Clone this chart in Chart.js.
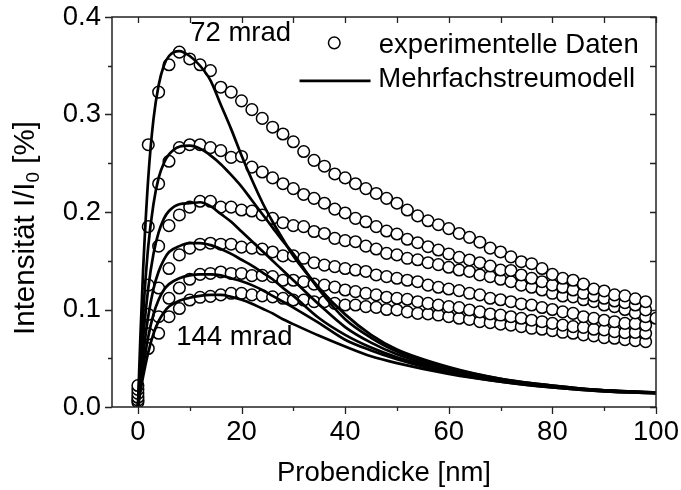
<!DOCTYPE html>
<html>
<head>
<meta charset="utf-8">
<script src="https://cdn.jsdelivr.net/npm/chart.js@4/dist/chart.umd.min.js"></script>
<style>
html,body{margin:0;padding:0;background:#fff;}
#wrap{width:681px;height:490px;}
</style>
</head>
<body>
<div id="wrap"><canvas id="c" width="681" height="490"></canvas></div>
<script>
// Probendicke (nm) of the measured points
const thickness = [0,2,4,6,8,10,12,14,16,18,20,22,24,26,28,30,32,34,36,38,40,42,44,46,48,50,52,54,56,58,60,62,64,66,68,70,72,74,76,78,80,82,84,86,88,90,92,94,96,98,100];

// experimentelle Daten, 72 mrad (top) ... 144 mrad (bottom)
const exp1 = [0.022,0.269,0.323,0.351,0.364,0.357,0.351,0.345,0.328,0.323,0.314,0.305,0.296,0.287,0.280,0.272,0.262,0.253,0.247,0.239,0.235,0.229,0.224,0.219,0.214,0.209,0.202,0.196,0.191,0.187,0.183,0.178,0.174,0.169,0.163,0.159,0.154,0.149,0.147,0.142,0.136,0.132,0.130,0.126,0.121,0.119,0.115,0.114,0.111,0.108,null];
const exp2 = [0.018,0.185,0.229,0.252,0.266,0.269,0.269,0.266,0.263,0.256,0.257,0.246,0.241,0.235,0.229,0.224,0.218,0.214,0.209,0.203,0.199,0.1935,0.190,0.185,0.1805,0.1774,0.172,0.1685,0.1644,0.161,0.157,0.1535,0.1508,0.148,0.1446,0.1405,0.140,0.1354,0.132,0.1285,0.125,0.1228,0.120,0.1166,0.1138,0.1115,0.1087,0.107,0.1046,0.0995,null];
const exp3 = [0.014,0.125,0.165,0.186,0.197,0.205,0.211,0.211,0.205,0.205,0.202,0.201,0.197,0.1935,0.189,0.186,0.185,0.180,0.178,0.173,0.1706,0.1695,0.165,0.162,0.1576,0.156,0.1525,0.151,0.148,0.146,0.1433,0.1405,0.139,0.1354,0.1337,0.131,0.1285,0.125,0.1228,0.120,0.1166,0.1138,0.113,0.110,0.108,0.1046,0.103,0.100,0.0965,0.0926,0.091];
const exp4 = [0.010,0.095,0.122,0.142,0.156,0.163,0.167,0.168,0.167,0.167,0.164,0.163,0.162,0.159,0.155,0.155,0.1525,0.148,0.1455,0.144,0.142,0.1405,0.139,0.1354,0.1337,0.132,0.130,0.1285,0.125,0.1228,0.121,0.1194,0.1166,0.115,0.1115,0.110,0.108,0.1057,0.1046,0.102,0.100,0.0976,0.096,0.0926,0.091,0.089,0.0875,0.0858,0.0855,0.084,null];
const exp5 = [0.007,0.075,0.0926,0.1115,0.122,0.131,0.136,0.137,0.1385,0.137,0.137,0.1347,0.135,0.1337,0.130,0.130,0.1285,0.126,0.125,0.123,0.120,0.1183,0.1166,0.115,0.1126,0.1115,0.1105,0.108,0.1063,0.1046,0.103,0.102,0.0995,0.0976,0.0954,0.0943,0.0926,0.091,0.089,0.0875,0.0858,0.084,0.0824,0.0817,0.0797,0.079,0.0773,0.0763,0.0765,0.0756,null];
const exp6 = [0.005,0.060,0.0756,0.0926,0.101,0.1097,0.1125,0.1135,0.115,0.1166,0.1166,0.115,0.114,0.113,0.1115,0.1097,0.1097,0.108,0.108,0.1063,0.1046,0.1046,0.103,0.1022,0.100,0.0995,0.0976,0.096,0.0954,0.0943,0.0926,0.091,0.0898,0.0875,0.0865,0.085,0.084,0.0824,0.0807,0.0797,0.0783,0.0766,0.0756,0.074,0.073,0.0712,0.0705,0.069,0.068,0.067,null];

// Mehrfachstreumodell curves, sampled thickness (nm)
const modelX = [0,0.5,1,2,3,4,5,6,8,10,12,14,16,18,20,22,24,26,28,30,35,40,45,50,60,70,80,90,100];
const mod1 = [0,0.075,0.14,0.235,0.295,0.33,0.35,0.36,0.365,0.36,0.35,0.335,0.31,0.285,0.258,0.233,0.21,0.19,0.172,0.155,0.122,0.095,0.074,0.059,0.041,0.029,0.022,0.017,0.015];
const mod2 = [0,0.05,0.095,0.165,0.208,0.235,0.25,0.259,0.267,0.268,0.265,0.258,0.249,0.238,0.226,0.212,0.198,0.184,0.17,0.157,0.12,0.09,0.071,0.057,0.040,0.029,0.022,0.017,0.015];
const mod3 = [0,0.037,0.07,0.122,0.157,0.179,0.193,0.201,0.208,0.209,0.21,0.206,0.198,0.19,0.18,0.17,0.16,0.15,0.14,0.13,0.105,0.082,0.066,0.054,0.038,0.028,0.021,0.017,0.015];
const mod4 = [0,0.028,0.053,0.093,0.121,0.139,0.151,0.159,0.165,0.168,0.168,0.166,0.162,0.157,0.151,0.145,0.138,0.131,0.122,0.114,0.091,0.074,0.061,0.051,0.037,0.027,0.021,0.017,0.0145];
const mod5 = [0,0.021,0.04,0.072,0.095,0.11,0.12,0.126,0.132,0.135,0.136,0.136,0.135,0.132,0.129,0.125,0.12,0.114,0.108,0.102,0.086,0.069,0.058,0.049,0.035,0.026,0.02,0.016,0.014];
const mod6 = [0,0.016,0.031,0.056,0.075,0.088,0.097,0.103,0.109,0.112,0.114,0.115,0.115,0.113,0.11,0.106,0.101,0.096,0.09,0.085,0.073,0.062,0.052,0.045,0.034,0.026,0.02,0.016,0.014];

// tick labels
const xTickLabels = [0,20,40,60,80,100];
const yTickLabels = [0.0,0.1,0.2,0.3,0.4];

const FONT = '"Liberation Sans", Arial, Helvetica, sans-serif';
const FS = 27.5;
const INK = '#000';
const AXIS = '#222';

function pts(xs, ys){
  const out = [];
  for (let i=0;i<xs.length;i++){ if (ys[i]!==null && ys[i]!==undefined) out.push({x:xs[i], y:ys[i]}); }
  return out;
}
const expSeries = [exp1,exp2,exp3,exp4,exp5,exp6];
const modSeries = [mod1,mod2,mod3,mod4,mod5,mod6];

const datasets = [];
modSeries.forEach((m,i)=>{
  datasets.push({
    label: i===0 ? 'Mehrfachstreumodell' : '',
    data: pts(modelX, m),
    showLine: true,
    borderColor: INK,
    borderWidth: 2.7,
    pointRadius: 0,
    cubicInterpolationMode: 'monotone',
    fill: false,
    order: 0
  });
});
expSeries.forEach((e,i)=>{
  datasets.push({
    label: i===0 ? 'experimentelle Daten' : '',
    data: pts(thickness, e),
    showLine: false,
    pointStyle: 'circle',
    pointRadius: 5.8,
    pointBorderWidth: 1.5,
    pointBorderColor: INK,
    pointBackgroundColor: '#fff',
    order: 1
  });
});

const decor = {
  id: 'decor',
  afterDatasetsDraw(chart){
    const ctx = chart.ctx;
    const a = chart.chartArea;
    const xs = chart.scales.x, ys = chart.scales.y;
    ctx.save();
    // frame
    ctx.strokeStyle = AXIS;
    ctx.lineWidth = 1.5;
    ctx.strokeRect(a.left, a.top, a.right-a.left, a.bottom-a.top);
    // x ticks: bottom outward, top inward
    ctx.lineWidth = 1.3;
    for (let v=0; v<=100; v+=10){
      const px = Math.round(xs.getPixelForValue(v))+0.5;
      const major = (v % 20 === 0);
      ctx.beginPath();
      ctx.moveTo(px, a.bottom); ctx.lineTo(px, a.bottom + (major?7:4));
      ctx.moveTo(px, a.top); ctx.lineTo(px, a.top + 6);
      ctx.stroke();
    }
    // y ticks: left outward, right inward
    for (let k=0; k<=8; k++){
      const v = k*0.05;
      const py = Math.round(ys.getPixelForValue(v))+0.5;
      const major = (k % 2 === 0);
      ctx.beginPath();
      ctx.moveTo(a.left, py); ctx.lineTo(a.left - (major?7:4), py);
      ctx.moveTo(a.right, py); ctx.lineTo(a.right - 6, py);
      ctx.stroke();
    }
    // annotations
    ctx.fillStyle = INK;
    ctx.font = FS + 'px ' + FONT;
    ctx.textBaseline = 'middle';
    ctx.textAlign = 'left';
    ctx.fillText('72 mrad', xs.getPixelForValue(10.1), ys.getPixelForValue(0.383));
    ctx.fillText('144 mrad', xs.getPixelForValue(7.4), ys.getPixelForValue(0.0715));
    // legend
    const lx = xs.getPixelForValue(37.9), ly = ys.getPixelForValue(0.3735);
    ctx.beginPath();
    ctx.arc(lx, ly, 5.8, 0, Math.PI*2);
    ctx.fillStyle = '#fff'; ctx.fill();
    ctx.lineWidth = 1.5; ctx.strokeStyle = INK; ctx.stroke();
    ctx.fillStyle = INK;
    ctx.fillText('experimentelle Daten', xs.getPixelForValue(46.5), ys.getPixelForValue(0.371));
    const l2y = ys.getPixelForValue(0.3345);
    ctx.beginPath();
    ctx.lineWidth = 2.7;
    ctx.moveTo(xs.getPixelForValue(31.2), l2y);
    ctx.lineTo(xs.getPixelForValue(44.9), l2y);
    ctx.stroke();
    ctx.fillText('Mehrfachstreumodell', xs.getPixelForValue(46.4), ys.getPixelForValue(0.3355));
    ctx.restore();

    // y-axis title with subscript
    ctx.save();
    ctx.translate(26, 228);
    ctx.rotate(-Math.PI/2);
    ctx.fillStyle = INK;
    ctx.textBaseline = 'middle';
    ctx.textAlign = 'left';
    const big = '29.5px ' + FONT, small = '19px ' + FONT;
    const p1 = 'Intensität I/I', p2 = '0', p3 = ' [%]';
    ctx.font = big; const w1 = ctx.measureText(p1).width; const w3 = ctx.measureText(p3).width;
    ctx.font = small; const w2 = ctx.measureText(p2).width;
    const total = w1 + w2 + w3;
    let x0 = -total/2;
    ctx.font = big; ctx.fillText(p1, x0, 0);
    ctx.font = small; ctx.fillText(p2, x0 + w1, 8);
    ctx.font = big; ctx.fillText(p3, x0 + w1 + w2, 0);
    ctx.restore();
  }
};

new Chart(document.getElementById('c'), {
  type: 'scatter',
  data: { datasets },
  options: {
    responsive: false,
    animation: false,
    devicePixelRatio: 1,
    layout: { padding: { top: 17, right: 25, left: 0, bottom: 0 } },
    plugins: { legend: { display: false }, tooltip: { enabled: false } },
    scales: {
      x: {
        type: 'linear', min: -5, max: 100,
        afterBuildTicks(s){ s.ticks = xTickLabels.map(v=>({value:v})); },
        afterFit(s){ s.height = 83; s.paddingLeft = 0; s.paddingRight = 0; },
        grid: { display: false, drawTicks: false },
        border: { display: false },
        ticks: { color: INK, font: { family: FONT, size: FS }, padding: 9, maxRotation: 0,
                 callback: v => String(v) },
        title: { display: true, text: 'Probendicke [nm]', color: INK, font: { family: FONT, size: FS }, padding: { top: 0, bottom: 0 } }
      },
      y: {
        type: 'linear', min: 0, max: 0.4,
        afterBuildTicks(s){ s.ticks = yTickLabels.map(v=>({value:v})); },
        afterFit(s){ s.width = 112; s.paddingTop = 0; s.paddingBottom = 0; },
        grid: { display: false, drawTicks: false },
        border: { display: false },
        ticks: { color: INK, font: { family: FONT, size: FS }, padding: 11,
                 callback: v => Number(v).toFixed(1) }
      }
    }
  },
  plugins: [decor]
});
</script>
</body>
</html>
